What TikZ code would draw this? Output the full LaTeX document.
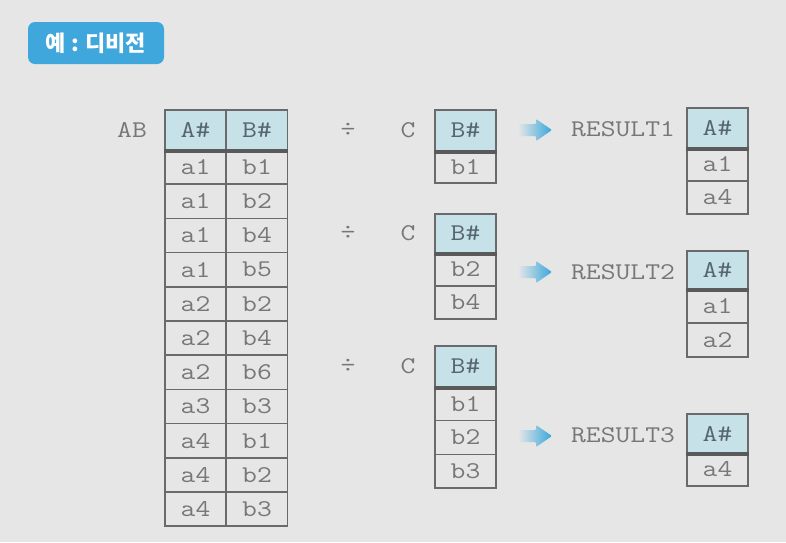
\documentclass[tikz,border=0pt]{standalone}
\usepackage{xcolor}
\usepackage{fontspec}
\newfontfamily\courfont{Latin Modern Mono}[FakeStretch=1.2]
\newfontfamily\krfont{Noto Sans CJK KR}
\usepackage{tikz}

\definecolor{bgcol}{HTML}{E6E6E6}
\definecolor{badgecol}{HTML}{3FA7DB}
\definecolor{headfill}{HTML}{C6E1E7}
\definecolor{gridcol}{HTML}{6A6A6A}
\definecolor{txtcol}{HTML}{777777}
\definecolor{headtxt}{HTML}{55666C}
\definecolor{arrowcol}{HTML}{38A6DC}

\begin{document}
\begin{tikzpicture}[x=1pt,y=-1pt]
\tikzstyle{every node}+=[inner sep=0pt]
\tikzstyle{cell}=[draw=gridcol, line width=1.5pt, minimum width=61pt, text=txtcol, font=\courfont\fontsize{24}{24}\selectfont]
\tikzstyle{head}=[cell, fill=headfill, text=headtxt]
\tikzstyle{lbl}=[text=txtcol, font=\courfont\fontsize{24}{24}\selectfont]
\tikzstyle{bar}=[draw=gridcol!85!black, line width=3.5pt]
\fill [bgcol] (0,0) rectangle (786,542);
\useasboundingbox (0,0) rectangle (786,542);
\node [fill=badgecol, rounded corners=7pt, minimum width=136pt, minimum height=42pt, text=white, font=\krfont\bfseries\fontsize{22}{22}\selectfont] (badge) at (96,43) {예 : 디비전};
% AB
\node [lbl] (ABlbl) at (132,130) {AB};
\node [head, minimum height=40pt] (ABa) at (195.5,130) {A\#};
\node [head, minimum height=40pt] (ABb) at (257,130) {B\#};
\foreach \a/\b [count=\i] in {a1/b1,a1/b2,a1/b4,a1/b5,a2/b2,a2/b4,a2/b6,a3/b3,a4/b1,a4/b2,a4/b3} {
  \node [cell, minimum height=34.2pt] (ABa\i) at (195.5,{150+34.2*\i-17.1}) {\a};
  \node [cell, minimum height=34.2pt] (ABb\i) at (257,{150+34.2*\i-17.1}) {\b};
}
\draw [bar] (ABa.south west) -- (ABb.south east);
% C1
\node [lbl] (div1) at (348,130) {÷};
\node [lbl] (Clbl1) at (408,130) {C};
\node [head, minimum height=41pt] (C1h) at (465.5,130.5) {B\#};
\node [cell, minimum height=32pt] (C1r1) at (465.5,167) {b1};
\draw [bar] (C1h.south west) -- (C1h.south east);
% C2
\node [lbl] (div2) at (348,233) {÷};
\node [lbl] (Clbl2) at (408,233) {C};
\node [head, minimum height=39pt] (C2h) at (465.5,233.5) {B\#};
\foreach \b [count=\i] in {b2,b4}
  \node [cell, minimum height=33pt] (C2r\i) at (465.5,{253+33*\i-16.5}) {\b};
\draw [bar] (C2h.south west) -- (C2h.south east);
% C3
\node [lbl] (div3) at (348,366) {÷};
\node [lbl] (Clbl3) at (408,366) {C};
\node [head, minimum height=41pt] (C3h) at (465.5,366.5) {B\#};
\foreach \b [count=\i] in {b1,b2,b3}
  \node [cell, minimum height=33.7pt] (C3r\i) at (465.5,{387+33.7*\i-16.85}) {\b};
\draw [bar] (C3h.south west) -- (C3h.south east);
% arrows
\foreach \y in {130,272,436}
  \shade [left color=bgcol, right color=arrowcol, rounded corners=1pt]
    (518,\y-6) -- (536,\y-6) -- (536,\y-11) -- (552,\y) -- (536,\y+11) -- (536,\y+6) -- (518,\y+6) -- cycle;
% results
\node [lbl] (res1) at (623,129) {RESULT1};
\node [lbl] (res2) at (623,272) {RESULT2};
\node [lbl] (res3) at (623,435) {RESULT3};
\node [head, minimum height=40pt] (R1h) at (717.5,128) {A\#};
\foreach \a [count=\i] in {a1,a4}
  \node [cell, minimum height=33pt] (R1r\i) at (717.5,{148+33*\i-16.5}) {\a};
\draw [bar] (R1h.south west) -- (R1h.south east);
\node [head, minimum height=38pt] (R2h) at (717.5,270) {A\#};
\foreach \a [count=\i] in {a1,a2}
  \node [cell, minimum height=34pt] (R2r\i) at (717.5,{289+34*\i-17}) {\a};
\draw [bar] (R2h.south west) -- (R2h.south east);
\node [head, minimum height=39pt] (R3h) at (717.5,433.5) {A\#};
\node [cell, minimum height=33pt] (R3r1) at (717.5,469.5) {a4};
\draw [bar] (R3h.south west) -- (R3h.south east);
\end{tikzpicture}
\end{document}
